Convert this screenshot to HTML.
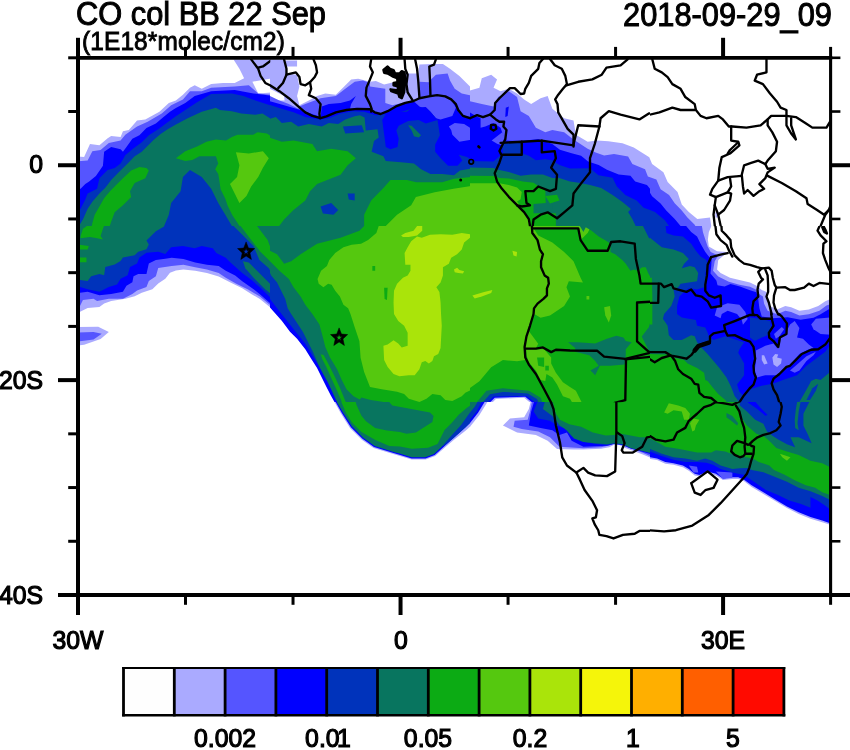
<!DOCTYPE html>
<html><head><meta charset="utf-8"><title>CO col BB</title>
<style>
html,body{margin:0;padding:0;background:#fff;}
body{width:850px;height:750px;position:relative;overflow:hidden;font-family:"Liberation Sans",sans-serif;}
.t{position:absolute;white-space:nowrap;line-height:1;transform-origin:0 84.65%;color:#000;font-family:"Liberation Sans",sans-serif;-webkit-text-stroke:0.45px #000;will-change:transform;}
</style></head><body>
<svg width="850" height="750" viewBox="0 0 850 750" style="position:absolute;left:0;top:0">
<rect x="0" y="0" width="850" height="750" fill="#fff"/>
<clipPath id="plot"><rect x="78" y="57.8" width="752.6" height="537.2"/></clipPath>
<g clip-path="url(#plot)">
<clipPath id="c70_50"><rect x="70" y="50" width="200.3" height="176.3"/></clipPath>
<g clip-path="url(#c70_50)"><g transform="translate(70,50) scale(0.235294)">
<rect x="-100" y="-100" width="1200" height="1100" fill="#ffffff"/>
<polygon fill="#aaaaff" points="0,450 60,455 85,400 125,405 160,375 175,365 215,370 225,345 250,340 285,300 320,295 380,262 420,225 450,215 480,190 510,160 530,150 560,165 600,145 650,140 700,140 740,120 720,80 695,40 900,40 900,800 0,800"/>
<polygon fill="#ffffff" points="775,135 860,120 860,180 800,185"/>
<polygon fill="#5555ff" points="0,475 75,470 95,430 130,425 165,395 215,385 235,360 285,325 330,305 390,270 430,235 480,210 510,175 560,175 600,160 700,155 760,150 800,185 900,195 900,800 0,800"/>
<polygon fill="#0000ff" points="0,592 45,590 65,570 80,560 110,535 140,492 145,432 175,412 215,422 225,432 240,412 265,377 295,362 325,332 365,312 395,287 425,262 450,247 490,225 530,195 600,175 700,170 780,185 900,200 900,800 0,800"/>
<polygon fill="#0033bb" points="0,690 45,675 65,635 75,610 115,590 125,545 160,510 190,502 215,482 235,447 265,422 305,392 335,362 375,337 415,307 450,282 490,255 540,222 600,187 688,185 737,195 788,215 850,235 900,245 900,800 0,800"/>
<polygon fill="#08755f" points="0,745 43,740 55,720 75,675 95,645 125,610 150,585 175,552 205,522 245,482 275,452 305,432 325,412 355,382 385,357 415,337 450,317 500,290 560,262 620,245 637,255 688,260 728,270 788,275 818,270 850,290 900,292 900,800 0,800"/>
<polygon fill="#0cab14" points="295,497 325,502 335,512 320,545 275,565 255,600 260,625 225,660 190,690 175,730 165,760 90,760 95,735 105,700 125,665 145,630 170,600 195,575 225,545 260,512"/>
<polygon fill="#0cab14" points="450,460 490,430 540,410 580,390 620,380 663,385 688,370 712,360 778,360 797,350 837,355 860,370 900,372 900,800 735,800 725,756 710,732 690,702 670,662 660,632 640,592 635,557 630,527 617,507 630,482 620,452 550,452 520,467 490,472"/>
<polygon fill="#0033bb" points="510,510 480,540 470,600 430,650 420,700 395,760 695,760 660,700 630,650 600,590 560,540"/>
<polygon fill="#55c80f" points="705,435 760,440 820,430 845,460 820,500 800,540 770,580 750,620 720,650 700,610 680,570 710,540 720,490"/>
</g></g>
<clipPath id="c270_50"><rect x="270" y="50" width="200.3" height="176.3"/></clipPath>
<g clip-path="url(#c270_50)"><g transform="translate(270,50) scale(0.235294)">
<rect x="-100" y="-100" width="1200" height="1100" fill="#ffffff"/>
<polygon fill="#aaaaff" points="-10,40 60,40 72,100 115,105 125,155 115,195 125,235 165,215 200,195 235,185 280,190 310,160 345,125 375,122 425,135 450,132 485,147 525,137 570,140 575,100 630,100 635,62 690,60 735,60 765,80 805,110 835,140 860,165 900,170 900,800 -10,800"/>
<polygon fill="#aaaaff" points="65,45 115,45 115,70 70,70"/>
<polygon fill="#ffffff" points="-72,130 0,165 60,195 62,215 30,215 0,200 -72,165"/>
<polygon fill="#5555ff" points="-10,195 0,195 40,215 80,230 120,250 125,240 150,230 190,215 215,205 250,200 280,195 320,165 360,135 395,130 425,140 425,155 490,165 490,225 520,235 560,225 600,215 635,207 635,135 675,137 680,130 705,105 755,100 765,130 785,165 815,185 860,195 900,200 900,800 -10,800"/>
<polygon fill="#0000ff" points="-10,215 60,235 130,255 215,285 220,240 250,230 300,225 340,215 365,195 345,230 340,250 370,250 425,252 445,265 470,272 500,260 535,240 575,225 610,217 635,240 670,255 685,285 725,295 775,280 790,245 770,210 790,230 800,255 820,280 900,290 900,800 -10,800"/>
<polygon fill="#5555ff" points="760,325 785,310 825,315 850,330 860,380 805,390 775,360 770,340"/>
<polygon fill="#0033bb" points="-10,230 50,250 100,265 150,285 180,290 215,295 250,290 300,270 350,260 400,262 450,277 500,272 560,262 602,250 662,244 682,262 712,297 722,362 702,402 702,432 727,462 757,492 797,492 817,470 802,445 837,455 862,470 900,480 900,800 -10,800"/>
<polygon fill="#0000ff" points="477,297 492,272 532,262 582,262 602,247 662,242 682,262 712,297 662,312 632,297 587,302 547,322 537,342 547,377 542,412 512,422 492,412 487,372 482,337"/>
<polygon fill="#08755f" points="-10,295 25,285 50,310 90,305 120,325 165,315 220,325 250,310 290,315 320,295 360,282 382,277 402,287 407,342 457,337 462,372 442,387 432,432 482,452 492,472 557,477 612,482 642,507 682,527 732,527 782,532 807,512 850,505 900,505 900,800 -10,800"/>
<polygon fill="#08755f" points="587,320 602,322 642,362 632,372 612,367 602,342"/>
<polygon fill="#0033bb" points="310,325 390,320 400,350 320,355"/>
<polygon fill="#0033bb" points="215,665 260,650 290,680 270,700 225,695"/>
<polygon fill="#0033bb" points="330,610 360,610 360,640 335,635"/>
<polygon fill="#0cab14" points="-10,370 50,390 100,385 180,400 200,430 260,420 330,430 365,460 330,490 300,530 200,570 170,600 150,640 100,680 60,720 30,760 -10,760"/>
<polygon fill="#0cab14" points="400,760 400,700 430,640 482,586 512,552 582,552 622,562 732,562 782,547 900,535 900,760"/>
<polygon fill="#55c80f" points="480,760 540,700 600,660 620,625 700,605 780,590 900,570 900,760"/>
</g></g>
<clipPath id="c470_50"><rect x="470" y="50" width="180" height="176.3"/></clipPath>
<g clip-path="url(#c470_50)"><g transform="translate(470,50) scale(0.235294)">
<rect x="-100" y="-100" width="1200" height="1100" fill="#ffffff"/>
<polygon fill="#aaaaff" points="-10,175 40,160 50,120 90,105 115,125 100,160 130,175 165,165 200,185 230,210 260,230 300,205 330,195 350,250 400,290 440,300 450,360 500,390 540,385 588,388 648,396 696,414 762,456 774,484 822,520 840,561 882,603 870,800 -10,800"/>
<polygon fill="#5555ff" points="-10,215 50,230 100,240 120,200 165,175 200,200 215,260 250,280 280,330 320,350 350,340 400,350 440,380 500,420 534,436 570,448 612,442 672,453 690,484 744,507 756,538 792,550 810,592 870,640 870,800 -10,800"/>
<polygon fill="#0000ff" points="-10,260 25,280 45,290 45,330 65,325 100,310 130,330 140,360 150,385 220,387 290,378 310,385 350,400 382,424 432,439 472,449 502,474 547,489 582,509 632,529 682,534 702,559 752,574 777,604 807,654 870,720 870,800 -10,800"/>
<polygon fill="#5555ff" points="92,385 137,350 147,370 137,405 117,400"/>
<polygon fill="#0000ff" points="152,245 165,240 160,280 150,285"/>
<polygon fill="#0033bb" points="-10,471 100,474 140,439 175,434 220,439 250,449 280,469 320,464 350,469 380,489 425,504 510,503 546,532 606,543 624,580 660,616 708,640 738,670 786,688 850,740 860,760 -10,760"/>
<polygon fill="#0033bb" points="135,395 220,392 220,445 140,445"/>
<polygon fill="#08755f" points="-10,499 100,501 120,509 165,519 215,534 260,529 310,529 350,544 380,544 425,559 470,565 510,574 558,586 606,616 648,646 684,676 672,688 690,718 710,760 -10,760"/>
<polygon fill="#0cab14" points="-10,534 105,536 125,544 165,546 225,559 270,564 300,584 320,594 322,650 270,655 270,694 290,694 365,694 365,760 -10,760"/>
<polygon fill="#08755f" points="274,654 350,654 350,692 300,690 274,674"/>
<polygon fill="#0cab14" points="320,620 370,615 380,640 340,652"/>
<polygon fill="#55c80f" points="-10,566 100,566 125,566 165,574 200,584 220,604 215,634 200,644 230,689 250,719 260,760 -10,760"/>
</g></g>
<clipPath id="c650_50"><rect x="650" y="50" width="200.3" height="176.3"/></clipPath>
<g clip-path="url(#c650_50)"><g transform="translate(650,50) scale(0.235294)">
<rect x="-100" y="-100" width="1200" height="1100" fill="#ffffff"/>
<polygon fill="#aaaaff" points="-10,450 -3,456 9,484 57,520 75,561 117,603 135,657 165,688 201,718 255,712 262,760 -10,760"/>
<polygon fill="#5555ff" points="-21,507 -9,538 27,550 45,592 81,616 105,651 135,682 159,712 189,742 200,760 -21,760"/>
<polygon fill="#0000ff" points="-15,580 9,622 45,652 69,682 105,718 140,760 -15,760"/>
<polygon fill="#0033bb" points="-27,670 21,688 63,724 90,760 -27,760"/>
<polygon fill="#aaaaff" points="278,690 292,690 292,712 278,712"/>
</g></g>
<clipPath id="c70_226"><rect x="70" y="226" width="200.3" height="176.3"/></clipPath>
<g clip-path="url(#c70_226)"><g transform="translate(70,226) scale(0.235294)">
<rect x="-100" y="-100" width="1200" height="1100" fill="#ffffff"/>
<polygon fill="#aaaaff" points="-10,375 43,364 75,349 125,344 145,329 175,319 235,309 275,299 305,284 350,269 375,244 405,224 425,199 450,189 482,185 532,190 582,200 632,215 682,240 732,265 772,290 807,310 870,362 870,-10 -10,-10"/>
<polygon fill="#5555ff" points="-10,330 43,339 55,314 100,309 115,319 165,309 225,309 265,289 285,274 325,259 335,234 365,214 375,179 432,170 482,165 532,175 582,185 632,200 662,220 707,245 757,270 807,300 870,352 870,-10 -10,-10"/>
<polygon fill="#0000ff" points="-10,285 43,284 75,279 125,294 175,289 225,279 240,254 265,239 270,214 290,204 325,204 335,159 365,144 405,139 432,135 482,140 532,155 582,165 632,170 662,190 702,210 732,235 782,270 807,290 870,345 870,-10 -10,-10"/>
<polygon fill="#0033bb" points="-10,255 43,259 75,269 125,279 165,259 200,249 215,224 245,209 255,174 285,159 295,134 325,114 375,109 405,119 430,90 480,85 530,95 560,85 607,95 622,115 662,135 682,155 732,200 772,230 807,260 870,322 870,-10 -10,-10"/>
<polygon fill="#08755f" points="-10,228 43,229 75,234 90,214 125,204 145,209 150,174 190,164 215,149 225,134 275,124 290,109 325,99 335,79 325,62 365,22 400,2 405,-10 -10,-10"/>
<polygon fill="#0cab14" points="40,134 70,134 70,154 40,154"/>
<polygon fill="#0cab14" points="90,-13 55,12 45,42 45,52 85,47 115,52 140,57 130,42 140,12 150,-13"/>
<polygon fill="#0cab14" points="40,80 80,85 75,100 40,100"/>
<polygon fill="#08755f" points="695,-10 695,0 730,35 780,85 805,145 845,180 880,240 880,-10"/>
<polygon fill="#0cab14" points="725,-10 725,0 770,60 810,110 850,150 890,190 890,-10"/>
<polygon fill="#08755f" points="795,-10 795,0 840,60 855,100 880,100 880,-10"/>
<polygon fill="#08755f" points="735,150 760,155 800,195 850,245 880,280 880,310 830,270 780,220 745,180"/>
<polygon fill="#aaaaff" points="-10,430 120,428 165,450 130,480 60,505 -10,512"/>
<polygon fill="#5555ff" points="-10,455 100,450 135,458 100,482 -10,497"/>
</g></g>
<clipPath id="c270_226"><rect x="270" y="226" width="200.3" height="176.3"/></clipPath>
<g clip-path="url(#c270_226)"><g transform="translate(270,226) scale(0.235294)">
<rect x="-100" y="-100" width="1200" height="1100" fill="#0cab14"/>
<polygon fill="#08755f" points="-10,-10 410,-10 380,20 300,50 200,75 130,120 90,150 60,160 30,120 -10,100"/>
<polygon fill="#08755f" points="-10,140 0,150 40,190 80,225 100,260 130,300 150,335 180,374 210,419 225,474 235,514 255,559 285,609 305,654 325,694 355,724 385,739 410,760 270,760 -10,330"/>
<polygon fill="#0033bb" points="-10,180 5,210 30,240 50,280 65,310 75,350 90,374 140,450 180,530 215,610 250,690 282,760 260,760 -10,330"/>
<polygon fill="#0000ff" points="-10,298 0,310 50,375 100,438 150,500 200,582 245,663 285,748 290,760 260,760 -10,340"/>
<polygon fill="#ffffff" points="-10,335 0,346 50,403 85,449 115,479 150,524 175,564 200,604 220,644 240,684 258,719 274,748 281,760 -10,760"/>
<polygon fill="#08755f" points="367,760 388,729 428,740 497,750 500,760"/>
<polygon fill="#0cab14" points="215,545 228,548 250,590 275,640 298,690 322,748 305,748 285,700 262,650 240,600 222,565"/>
<polygon fill="#55c80f" points="462,-10 462,0 452,30 417,60 387,75 347,80 312,90 277,115 252,145 242,170 217,190 202,225 207,245 227,260 247,245 262,250 277,275 297,300 312,335 332,350 342,374 360,430 380,490 385,560 400,620 425,684 475,694 540,704 570,714 590,734 635,748 665,734 690,714 725,719 745,739 775,744 815,724 830,709 850,699 885,665 885,-10"/>
<polygon fill="#aae40a" points="680,37 645,50 625,45 600,65 585,90 572,115 575,165 597,165 597,190 585,210 565,220 540,245 527,275 525,325 527,374 545,404 570,424 585,454 585,509 560,516 545,499 525,486 500,504 482,509 485,569 500,599 525,629 550,639 590,634 615,634 635,609 645,579 660,574 675,584 690,574 697,554 715,544 725,519 730,424 727,374 725,325 720,280 707,260 725,240 735,210 735,175 760,160 770,135 795,120 815,100 825,70 850,50 870,45 870,33 850,35 815,30 775,37 725,35"/>
<polygon fill="#aae40a" points="557,40 575,30 610,20 625,0 647,0 647,20 625,40 590,47 565,47"/>
<polygon fill="#aae40a" points="782,185 795,177 805,187 825,192 820,202 800,200 785,197"/>
<polygon fill="#0cab14" points="435,170 447,170 447,190 435,190"/>
<polygon fill="#0cab14" points="485,262 500,262 497,315 487,310"/>
</g></g>
<clipPath id="c470_226"><rect x="470" y="226" width="180" height="176.3"/></clipPath>
<g clip-path="url(#c470_226)"><g transform="translate(470,226) scale(0.235294)">
<rect x="-100" y="-100" width="1200" height="1100" fill="#0cab14"/>
<polygon fill="#55c80f" points="-10,-10 520,-10 500,30 470,60 460,10 270,10 290,40 350,70 400,110 440,150 470,220 480,240 420,235 410,260 425,300 400,340 340,380 300,390 275,375 260,400 245,440 290,500 280,520 240,522 235,570 200,575 140,570 90,600 40,660 -10,695"/>
<polygon fill="#08755f" points="467,-10 467,0 482,25 492,5 517,20 547,45 582,65 597,75 597,110 617,120 647,145 662,160 682,190 697,185 712,190 732,175 747,175 757,200 772,225 772,240 767,280 772,300 792,300 782,330 777,374 760,430 730,470 760,530 870,540 870,-10"/>
<polygon fill="#0033bb" points="730,-10 760,50 820,90 870,90 870,-10"/>
<polygon fill="#0000ff" points="830,-10 835,30 870,45 870,-10"/>
<polygon fill="#0000ff" points="830,340 870,335 870,430 835,425 820,390"/>
<polygon fill="#08755f" points="417,494 457,494 532,499 582,479 622,466 652,474 662,489 687,494 662,524 662,549 657,589 597,594 552,594 542,614 532,634 522,624 512,614 547,594 532,574 507,549 447,534 447,519"/>
<polygon fill="#08755f" points="20,760 70,700 140,690 250,700 300,730 312,760"/>
<polygon fill="#0033bb" points="45,760 85,715 140,705 245,712 285,735 295,760"/>
<polygon fill="#0000ff" points="65,760 100,725 240,722 270,745 280,760"/>
<polygon fill="#aaaaff" points="75,760 105,730 235,726 262,748 268,760"/>
<polygon fill="#ffffff" points="85,760 110,735 230,730 255,750 260,760"/>
<polygon fill="#55c80f" points="240,524 315,524 345,559 345,584 365,624 395,664 425,684 450,700 480,760 440,760 425,734 395,724 370,674 350,644 325,629 320,659 300,654 280,614 250,579 240,549"/>
<polygon fill="#0cab14" points="285,559 315,559 315,599 290,594"/>
<polygon fill="#0cab14" points="320,594 335,594 335,614 320,614"/>
<polygon fill="#aae40a" points="180,105 200,110 198,130 185,125"/>
<polygon fill="#aae40a" points="10,295 60,280 95,272 90,285 50,300 20,308"/>
<polygon fill="#55c80f" points="570,345 595,340 600,380 590,410 575,380"/>
<polygon fill="#55c80f" points="495,298 507,298 507,312 495,312"/>
</g></g>
<clipPath id="c650_226"><rect x="650" y="226" width="200.3" height="176.3"/></clipPath>
<g clip-path="url(#c650_226)"><g transform="translate(650,226) scale(0.235294)">
<rect x="-100" y="-100" width="1200" height="1100" fill="#0000ff"/>
<polygon fill="#0033bb" points="-10,-10 65,-10 70,30 100,40 140,45 175,75 195,105 215,130 240,145 245,165 235,200 240,235 230,260 200,270 165,265 145,280 125,300 115,340 115,374 135,389 195,399 200,424 235,431 245,454 250,469 270,484 320,469 370,484 400,494 380,524 375,539 400,584 400,634 370,674 380,704 400,724 425,699 425,694 475,679 525,669 565,654 625,634 665,594 705,564 745,534 767,504 790,504 790,760 -10,760"/>
<polygon fill="#0033bb" points="425,389 465,394 510,404 515,429 500,464 475,474 445,489 425,474"/>
<polygon fill="#08755f" points="-10,45 0,50 50,90 100,100 140,115 165,140 145,160 135,180 170,170 190,175 205,200 200,235 165,240 130,245 120,260 100,270 105,300 90,340 60,374 55,394 75,424 80,464 100,484 135,484 175,464 190,469 200,494 220,519 240,539 270,574 295,604 325,644 345,684 360,724 380,748 380,760 -10,760"/>
<polygon fill="#0cab14" points="-10,544 65,546 85,539 100,559 145,569 160,584 200,604 230,624 235,654 245,659 265,684 290,714 320,739 335,760 -10,760"/>
<polygon fill="#0cab14" points="-10,220 8,220 10,300 10,419 -10,419"/>
<polygon fill="#08755f" points="635,748 660,704 685,659 705,649 725,654 767,619 790,619 790,760 630,760"/>
<polygon fill="#0033bb" points="665,740 690,690 715,670 705,700 680,740"/>
<polygon fill="#5555ff" points="275,380 285,345 330,328 380,335 405,365 415,395 395,420 390,399 370,374 330,360 305,374 300,392"/>
<polygon fill="#5555ff" points="450,529 490,509 525,499 540,519 555,474 575,459 595,419 615,404 635,434 625,474 650,479 675,504 695,519 675,524 635,544 610,574 590,594 560,619 540,634 490,634 455,644 445,614 450,574"/>
<polygon fill="#5555ff" points="685,419 705,394 765,389 790,389 790,464 725,459 695,439"/>
<polygon fill="#5555ff" points="595,614 625,589 665,554 705,534 695,549 665,574 635,614 615,624"/>
<polygon fill="#5555ff" points="527,459 560,429 570,439 550,469 535,479"/>
<polygon fill="#aaaaff" points="475,549 485,549 500,584 485,589 475,569"/>
<polygon fill="#aaaaff" points="520,559 532,544 545,546 540,559 560,564 557,584 540,599 525,589"/>
<polygon fill="#5555ff" points="145,-10 175,25 200,45 215,75 235,110 250,130 262,140 260,172 257,202 282,232 287,252 317,257 342,247 382,257 422,272 452,282 460,310 465,350 475,385 520,392 585,388 640,398 695,390 725,375 767,350 790,345 790,-10"/>
<polygon fill="#aaaaff" points="216,-10 220,-3 225,27 235,57 245,87 258,110 290,125 275,150 268,190 290,215 335,237 380,250 425,258 450,270 465,290 480,300 485,330 500,360 540,375 575,360 600,365 635,380 675,375 720,360 750,338 790,325 790,-10"/>
<polygon fill="#ffffff" points="258,-10 260,2 250,27 246,57 250,87 285,107 325,110 325,115 290,145 285,185 300,200 340,220 380,230 425,240 455,255 475,272 495,280 500,300 510,340 540,355 575,340 600,345 635,360 675,355 715,340 745,320 767,310 790,310 790,-10"/>
</g></g>
<clipPath id="c270_402"><rect x="270" y="402" width="200.3" height="176.3"/></clipPath>
<g clip-path="url(#c270_402)"><g transform="translate(270,402) scale(0.235294)">
<rect x="-100" y="-100" width="1200" height="1100" fill="#ffffff"/>
<polygon fill="#aaaaff" points="268,-10 274,0 302,50 340,110 390,160 440,195 520,220 552,229 602,244 662,244 702,229 742,194 782,160 832,121 850,105 872,88 872,-10"/>
<polygon fill="#0000ff" points="273,-10 279,0 306,48 344,107 393,156 442,191 521,216 553,225 602,240 661,240 700,225 739,190 779,154 829,109 850,89 872,72 872,-10"/>
<polygon fill="#0033bb" points="735,190 779,154 829,109 850,89 872,72 872,-10 700,-10"/>
<polygon fill="#08755f" points="278,-10 284,0 311,46 348,103 396,152 445,187 522,211 554,220 602,235 660,235 697,221 728,192 765,150 812,98 850,45 872,25 872,-10"/>
<polygon fill="#0cab14" points="300,-10 303,0 323,47 348,87 388,127 448,162 507,187 552,189 602,199 672,194 712,179 727,149 742,119 772,89 802,54 837,24 877,-1 877,-10"/>
<polygon fill="#08755f" points="362,-10 367,11 388,57 408,82 447,111 497,121 552,127 580,135 620,130 690,85 695,60 680,45 600,30 520,15 497,-10"/>
</g></g>
<clipPath id="c470_402"><rect x="470" y="402" width="180" height="176.3"/></clipPath>
<g clip-path="url(#c470_402)"><g transform="translate(470,402) scale(0.235294)">
<rect x="-100" y="-100" width="1200" height="1100" fill="#ffffff"/>
<polygon fill="#aaaaff" points="-10,112 0,105 40,55 80,-10 -10,-10"/>
<polygon fill="#0000ff" points="-10,97 0,89 35,45 68,-10 -10,-10"/>
<polygon fill="#0033bb" points="-10,82 0,75 28,40 55,-10 -10,-10"/>
<polygon fill="#08755f" points="-10,52 0,45 20,20 38,-10 -10,-10"/>
<polygon fill="#aaaaff" points="260,-10 250,30 230,65 170,70 140,100 200,130 280,140 330,165 370,200 440,202 482,202 557,199 592,192 612,182 632,182 662,197 692,207 732,222 772,239 807,249 870,262 870,-10"/>
<polygon fill="#5555ff" points="265,-10 255,40 245,75 190,80 185,105 220,115 290,125 340,150 380,190 482,197 557,192 592,185 612,176 632,176 662,190 692,200 732,215 772,232 807,242 870,255 870,-10"/>
<polygon fill="#0000ff" points="275,-10 260,40 250,100 300,110 350,120 380,140 412,130 432,165 482,190 532,188 582,186 612,178 652,184 682,198 722,208 762,220 807,236 870,248 870,-10"/>
<polygon fill="#0033bb" points="290,-10 270,40 290,70 340,80 370,100 400,112 430,145 475,168 532,178 582,183 612,177 652,182 682,196 722,206 762,217 807,232 870,245 870,-10"/>
<polygon fill="#08755f" points="320,-10 310,30 350,60 382,100 412,120 442,155 482,170 532,175 582,180 612,175 652,180 682,195 722,205 762,215 807,230 870,243 870,-10"/>
<polygon fill="#0cab14" points="350,-10 365,50 382,75 422,95 472,105 522,130 577,142 612,140 642,135 682,142 722,150 747,150 772,160 807,170 870,185 870,-10"/>
</g></g>
<clipPath id="c650_402"><rect x="650" y="402" width="200.3" height="176.3"/></clipPath>
<g clip-path="url(#c650_402)"><g transform="translate(650,402) scale(0.235294)">
<rect x="-100" y="-100" width="1200" height="1100" fill="#ffffff"/>
<polygon fill="#aaaaff" points="-10,240 0,242 30,247 65,262 100,267 140,277 165,292 190,312 210,317 245,302 280,312 310,332 350,327 375,327 400,337 432,361 482,391 532,421 582,451 632,476 682,496 732,511 762,521 790,532 790,-10 -10,-10"/>
<polygon fill="#0000ff" points="-10,233 0,235 30,240 65,255 100,260 140,270 165,285 190,305 210,310 245,295 280,305 310,325 350,320 375,320 400,330 432,354 482,384 532,414 582,444 632,469 682,489 732,504 762,514 790,525 790,-10 -10,-10"/>
<polygon fill="#5555ff" points="165,270 200,275 205,300 185,300"/>
<polygon fill="#5555ff" points="280,295 350,300 350,322 310,327"/>
<polygon fill="#0033bb" points="-10,208 0,210 50,230 100,245 150,255 200,255 240,258 270,268 300,285 350,300 397,309 442,339 492,374 542,394 592,419 642,434 682,449 682,404 712,419 742,439 762,454 790,465 790,-10 -10,-10"/>
<polygon fill="#08755f" points="-10,198 0,200 50,220 100,235 150,240 200,250 235,240 265,250 300,270 350,285 382,282 417,280 432,289 482,299 532,319 582,339 632,364 682,379 732,399 762,414 790,425 790,-10 -10,-10"/>
<polygon fill="#0cab14" points="-10,153 0,155 30,170 65,190 125,200 200,215 260,215 280,205 320,210 345,220 382,230 437,240 462,255 507,270 527,289 572,309 617,334 662,354 702,364 732,384 762,394 790,405 790,-10 -10,-10"/>
<polygon fill="#08755f" points="370,-10 372,20 385,45 395,75 412,100 452,135 487,148 512,170 537,195 582,210 632,225 682,250 732,260 762,275 790,285 790,-10"/>
<polygon fill="#0033bb" points="390,-10 382,5 382,15 412,40 447,75 482,92 497,125 522,145 547,160 582,180 617,192 597,150 632,150 687,175 672,140 652,100 652,50 677,0 680,-10"/>
<polygon fill="#08755f" points="627,-10 642,-10 632,40 627,90 632,120 617,110 615,75 620,30"/>
<polygon fill="#0000ff" points="405,-10 440,-10 470,25 500,55 490,58 450,25 420,5"/>
<polygon fill="#55c80f" points="60,45 80,5 120,15 150,25 170,50 165,75 145,75 135,40 100,35 75,50"/>
<polygon fill="#55c80f" points="170,90 185,70 210,75 195,100 190,120 180,125"/>
<polygon fill="#08755f" points="325,47 350,60 375,90 370,100 345,80 325,65"/>
<polygon fill="#55c80f" points="552,220 597,235 582,250 562,235"/>
</g></g>
<g clip-path="url(#c70_50)"><g transform="translate(70,50) scale(0.235294)" fill="none" stroke="#000" stroke-width="9.9875" stroke-linejoin="round" stroke-linecap="round">
<polyline points="770,40 800,80 810,110 830,140 860,155"/>
<polyline points="860,40 820,70 800,75"/>
</g></g>
<g clip-path="url(#c270_50)"><g transform="translate(270,50) scale(0.235294)" fill="none" stroke="#000" stroke-width="9.9875" stroke-linejoin="round" stroke-linecap="round">
<polyline points="-10,147 0,150 40,175 80,205 120,240 150,265 180,280 215,290 240,282 280,265 325,255 370,250 425,252 445,265 470,272 500,260 535,240 575,225 610,217 635,205 675,197 710,192 745,197 770,210 790,230 800,255 820,280 860,293"/>
<polyline points="60,40 70,80 70,105 55,140 35,162"/>
<polyline points="70,105 110,95 125,115 130,145 150,150 170,137 190,115 200,95 195,65 185,40"/>
<polyline points="170,137 175,165 165,192 195,205 215,230 210,270 212,290"/>
<polyline points="430,40 425,70 437,95 425,125 410,160 407,195 425,230 432,250 430,262"/>
<polyline points="572,40 575,80 585,105 580,145 585,180 607,215"/>
<polyline points="617,40 625,80 630,130 635,202"/>
<polyline points="705,40 697,62 677,70 680,130 682,195"/>
<polygon fill="#000" points="482,85 500,70 510,80 525,85 532,100 550,100 560,90 572,95 575,130 570,180 560,205 550,200 545,185 515,175 512,167 545,172 542,155 525,150 525,140 542,137 540,120 520,112 500,100 485,97"/>
</g></g>
<g clip-path="url(#c470_50)"><g transform="translate(470,50) scale(0.235294)" fill="none" stroke="#000" stroke-width="9.9875" stroke-linejoin="round" stroke-linecap="round">
<polyline points="-10,292 0,290 30,277 55,285 85,275 110,295 125,305 145,305 142,325 155,340 150,380 145,389 125,429 135,449 125,479 105,524 115,559 135,589 165,624 200,659 230,689 250,719 257,760"/>
<polyline points="85,275 105,255 107,225 125,205 170,162 190,162 215,187 230,185 235,165 250,140 260,110 290,80 295,55 310,38"/>
<polyline points="340,38 360,65 390,80 405,110 412,145 395,165 375,190 362,210 372,230 375,265 395,300 415,335 440,360 440,410"/>
<polyline points="410,150 460,135 520,125 560,105 580,75 640,65 670,40"/>
<polyline points="440,400 460,320 550,325 555,290 590,260 640,275 720,295 760,270 860,260"/>
<polyline points="550,325 530,400 510,460 510,520 470,570 440,610 435,660 400,690 370,715 330,690 300,700 270,720 265,760"/>
<polyline points="130,395 220,390 220,445 140,445"/>
<polyline points="220,390 305,385 305,435 360,430 365,460 345,500 370,530 365,590 340,600 290,580 270,600 235,600 240,650 255,660 220,665 200,660"/>
<polyline points="305,385 440,405"/>
<polyline points="780,40 790,80 820,95 860,125"/>
<polyline points="90,318 108,318 112,335 100,342 88,335 90,318"/>
<polyline stroke-width="11.05" points="36,410 40,414"/>
</g></g>
<g clip-path="url(#c650_50)"><g transform="translate(650,50) scale(0.235294)" fill="none" stroke="#000" stroke-width="9.9875" stroke-linejoin="round" stroke-linecap="round">
<polyline points="10,40 20,80 50,95 75,115 95,145 130,165 150,200 190,230 195,255 215,280 240,290 290,280 310,295 335,325 350,325 410,330 470,320 500,295 515,280 580,280 620,285 660,310 690,330 750,330 768,300"/>
<polyline points="-10,277 40,265 95,245 130,255 190,255"/>
<polyline points="495,40 495,95 455,105 445,130 480,145 510,185 540,220 555,245 580,255 580,280"/>
<polyline points="580,280 580,320 600,355 620,380 610,350 600,320 600,290"/>
<polyline points="345,325 345,385 375,390 380,405 340,440 305,455 295,500 290,555"/>
<polyline points="375,392 340,425 330,440"/>
<polyline points="500,295 500,320 520,350 540,390 535,430 500,470 490,485"/>
<polyline points="490,485 460,470 430,480 400,490 390,530 395,580 400,610 415,595 440,620 465,600 485,590 465,570 490,545 500,520 530,500 500,505 490,485"/>
<polyline points="290,555 330,540 390,535"/>
<polyline points="500,535 560,565 620,600 665,630 670,655 710,680 740,700 760,680 768,660"/>
<polyline points="290,555 265,590 255,615 280,625 330,605 345,580 340,545"/>
<polyline points="280,625 275,660 290,700 315,680 340,640 345,610 330,605"/>
<polyline points="275,660 270,700 277,760"/>
<polyline points="290,700 303,760"/>
<polyline points="720,760 745,700 760,680"/>
</g></g>
<g clip-path="url(#c70_226)"><g transform="translate(70,226) scale(0.235294)" fill="none" stroke="#000" stroke-width="9.9875" stroke-linejoin="round" stroke-linecap="round">
</g></g>
<g clip-path="url(#c270_226)"><g transform="translate(270,226) scale(0.235294)" fill="none" stroke="#000" stroke-width="9.9875" stroke-linejoin="round" stroke-linecap="round">
</g></g>
<g clip-path="url(#c470_226)"><g transform="translate(470,226) scale(0.235294)" fill="none" stroke="#000" stroke-width="9.9875" stroke-linejoin="round" stroke-linecap="round">
<polyline points="262,-10 265,30 287,60 297,100 310,120 302,150 302,175 317,210 332,220 335,245 327,265 327,295 312,310 287,330 272,350 270,374 255,424 240,469 232,514 235,559 250,589 280,629 310,684 350,760"/>
<polyline points="265,10 460,10 470,60 500,105 585,105 600,68 640,65 700,75 705,140 720,210 725,245 820,245 860,238"/>
<polyline points="800,250 795,320 710,325 710,490 760,535 860,545"/>
<polyline points="237,521 280,521 310,516 345,536 365,526 425,529 540,530 570,555 660,565 760,540"/>
<polyline points="660,567 775,555 790,575 860,553"/>
<polyline points="663,570 660,740 615,752"/>
</g></g>
<g clip-path="url(#c650_226)"><g transform="translate(650,226) scale(0.235294)" fill="none" stroke="#000" stroke-width="9.9875" stroke-linejoin="round" stroke-linecap="round">
<polyline points="260,132 300,122 330,115"/>
<polyline points="260,132 245,165 242,210 235,250 235,275 250,295 275,305 300,295 302,340 260,347 245,320 220,300 195,295 175,270 155,280 100,265 92,247 60,260 47,245 -10,245"/>
<polyline points="37,245 35,327 -10,327"/>
<polyline points="277,-10 282,35 300,60 325,80 337,107 350,130"/>
<polyline points="303,-10 305,20 325,40 342,60 345,90 360,125 380,145 400,160 425,165 455,175 475,180 505,177 517,190 522,220 530,250 537,262 575,260 595,272 615,272 655,262 675,245 695,255 720,242 767,247"/>
<polyline points="475,180 460,195 472,220 480,227 462,245 457,270 460,300 440,320 435,350 437,374 445,378"/>
<polyline points="490,185 500,210 502,250 502,280 495,300 505,325 517,374"/>
<polyline points="537,262 527,295 525,325 532,350 545,376"/>
<polyline points="725,-10 712,20 725,40 750,65 737,75 735,115 745,145 757,175 767,195"/>
<polyline points="732,5 740,25 752,32 745,15 737,0"/>
<polyline points="0,536 65,536 90,551 120,556 155,564 175,549 190,529 205,511 230,499 255,494 255,469 270,456 320,446 315,421 360,404 425,378 455,379 470,394 515,394"/>
<polyline stroke-width="19.125" points="190,529 205,511 250,496"/>
<polyline points="320,446 330,466 360,464 395,481 425,491 440,514 447,564 440,594 442,624 450,644 440,674 425,689"/>
<polyline points="90,551 107,574 120,609 140,629 175,649 190,671 205,674 210,709 230,726 260,731 285,752"/>
<polyline points="-10,561 20,579 50,561 85,551"/>
<polyline points="425,689 400,719 378,752"/>
<polyline points="515,374 520,404 525,424 505,454 507,474 525,489 545,514 550,489 552,474 580,459 582,414 560,384 548,374"/>
<polyline points="767,474 745,504 715,524 685,526 645,544 620,569 595,594 580,599 550,629 525,649 517,669 525,694 540,719 550,752"/>
</g></g>
<g clip-path="url(#c270_402)"><g transform="translate(270,402) scale(0.235294)" fill="none" stroke="#000" stroke-width="9.9875" stroke-linejoin="round" stroke-linecap="round">
</g></g>
<g clip-path="url(#c470_402)"><g transform="translate(470,402) scale(0.235294)" fill="none" stroke="#000" stroke-width="9.9875" stroke-linejoin="round" stroke-linecap="round">
<polyline points="340,-10 355,30 365,100 382,170 392,235 412,270 452,300 467,330 487,374 520,420 540,460 535,490 520,495 530,520 545,545 550,565 580,570 610,580 650,565 700,560 720,548 800,548 870,552"/>
<polyline points="452,300 482,280 502,300 532,312 582,315 617,295 622,130 622,-10"/>
<polyline points="625,130 647,145 657,175 645,205 652,215 692,215 732,190 752,150 777,147 807,160 870,165"/>
</g></g>
<g clip-path="url(#c650_402)"><g transform="translate(650,402) scale(0.235294)" fill="none" stroke="#000" stroke-width="9.9875" stroke-linejoin="round" stroke-linecap="round">
<polyline points="-10,143 0,145 25,160 65,167 100,160 115,130 150,110 165,80 200,50 230,22 260,12 280,0 310,5 350,12 385,-5"/>
<polyline points="365,15 380,40 390,80 400,110 405,150 402,190 405,220 397,230 382,235 360,225 345,210 350,185 370,165 402,175 417,182"/>
<polyline points="405,220 432,220"/>
<polyline points="552,-10 560,20 555,50 547,85 555,100 537,120 512,132 482,140 457,150 437,165 422,180 432,187 442,190 440,220 430,250 422,280 412,305 400,320 350,375 300,430 250,480 180,525 110,545 60,550 -10,545"/>
<polyline points="175,345 245,295 287,330 270,365 235,375 215,395 190,385 175,345"/>
</g></g>
<path d="M246.10,241.88 L248.48,248.06 L254.66,248.60 L249.95,252.95 L251.39,259.46 L246.10,255.97 L240.81,259.46 L242.25,252.95 L237.54,248.60 L243.72,248.06Z M246.10,248.04 L246.91,250.39 L249.24,250.50 L247.42,252.06 L248.04,254.48 L246.10,253.10 L244.16,254.48 L244.78,252.06 L242.96,250.50 L245.29,250.39Z" fill="#000" stroke="#000" stroke-width="0.5" stroke-linejoin="round" fill-rule="evenodd"/><path d="M339.10,327.88 L341.48,334.06 L347.66,334.60 L342.95,338.95 L344.39,345.46 L339.10,341.97 L333.81,345.46 L335.25,338.95 L330.54,334.60 L336.72,334.06Z M339.10,334.04 L339.91,336.39 L342.24,336.50 L340.42,338.06 L341.04,340.48 L339.10,339.10 L337.16,340.48 L337.78,338.06 L335.96,336.50 L338.29,336.39Z" fill="#000" stroke="#000" stroke-width="0.5" stroke-linejoin="round" fill-rule="evenodd"/><circle cx="471.2" cy="161.8" r="2.3" fill="none" stroke="#000" stroke-width="1.7"/><circle cx="460.7" cy="180.1" r="1.5" fill="#000"/>
</g>
<g stroke="#000" fill="none" stroke-linecap="butt">
<line x1="78" y1="55.95" x2="78" y2="597" stroke-width="4"/>
<line x1="76" y1="595" x2="832.15" y2="595" stroke-width="4"/>
<line x1="76" y1="57.8" x2="832.15" y2="57.8" stroke-width="3.7"/>
<line x1="830.6" y1="55.95" x2="830.6" y2="597" stroke-width="3.1"/>
<line x1="78" y1="57.8" x2="78" y2="37.8" stroke-width="4"/>
<line x1="78" y1="595" x2="78" y2="615" stroke-width="4"/>
<line x1="185.514" y1="57.8" x2="185.514" y2="46.9" stroke-width="3"/>
<line x1="185.514" y1="595" x2="185.514" y2="604.8" stroke-width="3"/>
<line x1="293.029" y1="57.8" x2="293.029" y2="46.9" stroke-width="3"/>
<line x1="293.029" y1="595" x2="293.029" y2="604.8" stroke-width="3"/>
<line x1="400.543" y1="57.8" x2="400.543" y2="37.8" stroke-width="4"/>
<line x1="400.543" y1="595" x2="400.543" y2="615" stroke-width="4"/>
<line x1="508.057" y1="57.8" x2="508.057" y2="46.9" stroke-width="3"/>
<line x1="508.057" y1="595" x2="508.057" y2="604.8" stroke-width="3"/>
<line x1="615.571" y1="57.8" x2="615.571" y2="46.9" stroke-width="3"/>
<line x1="615.571" y1="595" x2="615.571" y2="604.8" stroke-width="3"/>
<line x1="723.086" y1="57.8" x2="723.086" y2="37.8" stroke-width="4"/>
<line x1="723.086" y1="595" x2="723.086" y2="615" stroke-width="4"/>
<line x1="830.6" y1="57.8" x2="830.6" y2="46.9" stroke-width="3"/>
<line x1="830.6" y1="595" x2="830.6" y2="604.8" stroke-width="3"/>
<line x1="78" y1="595" x2="58" y2="595" stroke-width="4"/>
<line x1="830.6" y1="595" x2="850.6" y2="595" stroke-width="4"/>
<line x1="78" y1="541.28" x2="68.2" y2="541.28" stroke-width="3"/>
<line x1="830.6" y1="541.28" x2="840.4" y2="541.28" stroke-width="2.6"/>
<line x1="78" y1="487.56" x2="68.2" y2="487.56" stroke-width="3"/>
<line x1="830.6" y1="487.56" x2="840.4" y2="487.56" stroke-width="2.6"/>
<line x1="78" y1="433.84" x2="68.2" y2="433.84" stroke-width="3"/>
<line x1="830.6" y1="433.84" x2="840.4" y2="433.84" stroke-width="2.6"/>
<line x1="78" y1="380.12" x2="58" y2="380.12" stroke-width="4"/>
<line x1="830.6" y1="380.12" x2="850.6" y2="380.12" stroke-width="4"/>
<line x1="78" y1="326.4" x2="68.2" y2="326.4" stroke-width="3"/>
<line x1="830.6" y1="326.4" x2="840.4" y2="326.4" stroke-width="2.6"/>
<line x1="78" y1="272.68" x2="68.2" y2="272.68" stroke-width="3"/>
<line x1="830.6" y1="272.68" x2="840.4" y2="272.68" stroke-width="2.6"/>
<line x1="78" y1="218.96" x2="68.2" y2="218.96" stroke-width="3"/>
<line x1="830.6" y1="218.96" x2="840.4" y2="218.96" stroke-width="2.6"/>
<line x1="78" y1="165.24" x2="58" y2="165.24" stroke-width="4"/>
<line x1="830.6" y1="165.24" x2="850.6" y2="165.24" stroke-width="4"/>
<line x1="78" y1="111.52" x2="68.2" y2="111.52" stroke-width="3"/>
<line x1="830.6" y1="111.52" x2="840.4" y2="111.52" stroke-width="2.6"/>
<line x1="78" y1="57.8" x2="68.2" y2="57.8" stroke-width="3"/>
<line x1="830.6" y1="57.8" x2="840.4" y2="57.8" stroke-width="2.6"/>
</g>
<rect x="123.5" y="668" width="51" height="47.5" fill="#fefefe"/>
<rect x="174.3" y="668" width="51" height="47.5" fill="#aaaaff"/>
<rect x="225.1" y="668" width="51" height="47.5" fill="#5555ff"/>
<rect x="275.9" y="668" width="51" height="47.5" fill="#0000ff"/>
<rect x="326.7" y="668" width="51" height="47.5" fill="#0033bb"/>
<rect x="377.5" y="668" width="51" height="47.5" fill="#08755f"/>
<rect x="428.3" y="668" width="51" height="47.5" fill="#0cab14"/>
<rect x="479.1" y="668" width="51" height="47.5" fill="#55c80f"/>
<rect x="529.9" y="668" width="51" height="47.5" fill="#aae40a"/>
<rect x="580.7" y="668" width="51" height="47.5" fill="#f5f50a"/>
<rect x="631.5" y="668" width="51" height="47.5" fill="#ffaf00"/>
<rect x="682.3" y="668" width="51" height="47.5" fill="#ff5f00"/>
<rect x="733.1" y="668" width="51" height="47.5" fill="#ff0a00"/>
<line x1="123.5" y1="667.1" x2="123.5" y2="716.4" stroke="#000" stroke-width="2.8"/>
<line x1="174.3" y1="667.1" x2="174.3" y2="716.4" stroke="#000" stroke-width="2.8"/>
<line x1="225.1" y1="667.1" x2="225.1" y2="716.4" stroke="#000" stroke-width="2.8"/>
<line x1="275.9" y1="667.1" x2="275.9" y2="716.4" stroke="#000" stroke-width="2.8"/>
<line x1="326.7" y1="667.1" x2="326.7" y2="716.4" stroke="#000" stroke-width="2.8"/>
<line x1="377.5" y1="667.1" x2="377.5" y2="716.4" stroke="#000" stroke-width="2.8"/>
<line x1="428.3" y1="667.1" x2="428.3" y2="716.4" stroke="#000" stroke-width="2.8"/>
<line x1="479.1" y1="667.1" x2="479.1" y2="716.4" stroke="#000" stroke-width="2.8"/>
<line x1="529.9" y1="667.1" x2="529.9" y2="716.4" stroke="#000" stroke-width="2.8"/>
<line x1="580.7" y1="667.1" x2="580.7" y2="716.4" stroke="#000" stroke-width="2.8"/>
<line x1="631.5" y1="667.1" x2="631.5" y2="716.4" stroke="#000" stroke-width="2.8"/>
<line x1="682.3" y1="667.1" x2="682.3" y2="716.4" stroke="#000" stroke-width="2.8"/>
<line x1="733.1" y1="667.1" x2="733.1" y2="716.4" stroke="#000" stroke-width="2.8"/>
<line x1="783.9" y1="667.1" x2="783.9" y2="716.4" stroke="#000" stroke-width="2.8"/>
<line x1="122.1" y1="668" x2="785.3" y2="668" stroke="#000" stroke-width="1.9"/>
<line x1="122.1" y1="715.2" x2="785.3" y2="715.2" stroke="#000" stroke-width="2.6"/>
</svg>
<div class="t" style="left:75.7px;top:0.2278px;font-size:30.8px;transform:scaleY(1.075);letter-spacing:0px;-webkit-text-stroke:0.95px #000">CO col BB 22 Sep</div>
<div class="t" style="left:81.5px;top:29.8454px;font-size:24.4px;transform:scaleY(1.075);letter-spacing:0.15px;-webkit-text-stroke:0.85px #000">(1E18*molec/cm2)</div>
<div class="t" style="left:831.8px;top:0.7278px;font-size:30.8px;transform:translateX(-100%) scaleY(1.075);letter-spacing:0px;-webkit-text-stroke:0.95px #000">2018-09-29_09</div>
<div class="t" style="left:42.8px;top:152.907px;font-size:24.8px;transform:translateX(-100%) scaleY(1.075);letter-spacing:0px;-webkit-text-stroke:1.15px #000">0</div>
<div class="t" style="left:42.8px;top:368.907px;font-size:24.8px;transform:translateX(-100%) scaleY(1.075);letter-spacing:0px;-webkit-text-stroke:1.15px #000">20S</div>
<div class="t" style="left:42.8px;top:584.407px;font-size:24.8px;transform:translateX(-100%) scaleY(1.075);letter-spacing:0px;-webkit-text-stroke:1.15px #000">40S</div>
<div class="t" style="left:78px;top:628.607px;font-size:24.8px;transform:translateX(-50%) scaleY(1.075);letter-spacing:0px;-webkit-text-stroke:1.15px #000">30W</div>
<div class="t" style="left:400.5px;top:628.607px;font-size:24.8px;transform:translateX(-50%) scaleY(1.075);letter-spacing:0px;-webkit-text-stroke:1.15px #000">0</div>
<div class="t" style="left:723px;top:628.607px;font-size:24.8px;transform:translateX(-50%) scaleY(1.075);letter-spacing:0px;-webkit-text-stroke:1.15px #000">30E</div>
<div class="t" style="left:225.1px;top:727.107px;font-size:24.8px;transform:translateX(-50%) scaleY(1.075);letter-spacing:0px;-webkit-text-stroke:1.15px #000">0.002</div>
<div class="t" style="left:326.7px;top:727.107px;font-size:24.8px;transform:translateX(-50%) scaleY(1.075);letter-spacing:0px;-webkit-text-stroke:1.15px #000">0.0<span style="margin-left:-2.5px;margin-right:-2px">1</span></div>
<div class="t" style="left:428.3px;top:727.107px;font-size:24.8px;transform:translateX(-50%) scaleY(1.075);letter-spacing:0px;-webkit-text-stroke:1.15px #000">0.05</div>
<div class="t" style="left:529.9px;top:727.107px;font-size:24.8px;transform:translateX(-50%) scaleY(1.075);letter-spacing:0px;-webkit-text-stroke:1.15px #000">0.2</div>
<div class="t" style="left:633px;top:727.107px;font-size:24.8px;transform:translateX(-50%) scaleY(1.075);letter-spacing:0px;-webkit-text-stroke:1.15px #000">1</div>
<div class="t" style="left:733.1px;top:727.107px;font-size:24.8px;transform:translateX(-50%) scaleY(1.075);letter-spacing:0px;-webkit-text-stroke:1.15px #000">5</div>
</body></html>
